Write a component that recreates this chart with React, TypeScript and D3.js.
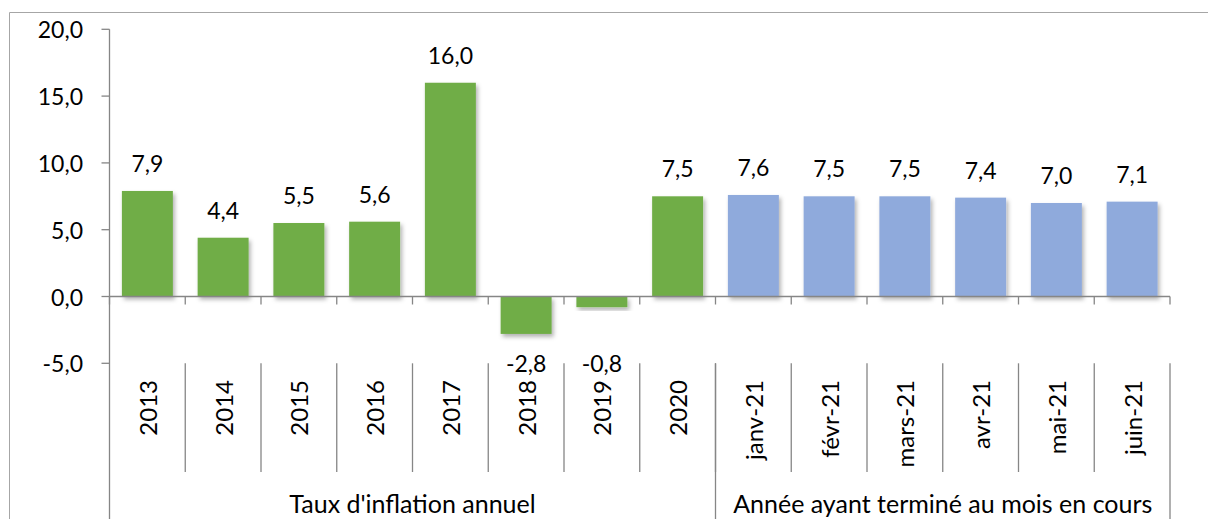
import React from "react";
import * as d3 from "d3";

const categories = ["2013", "2014", "2015", "2016", "2017", "2018", "2019", "2020", "janv-21", "févr-21", "mars-21", "avr-21", "mai-21", "juin-21"];
const values = [7.9, 4.4, 5.5, 5.6, 16.0, -2.8, -0.8, 7.5, 7.6, 7.5, 7.5, 7.4, 7.0, 7.1];
const seriesKind = ["annual", "annual", "annual", "annual", "annual", "annual", "annual", "annual", "monthly", "monthly", "monthly", "monthly", "monthly", "monthly"];
const groupNames = ["Taux d'inflation annuel", "Année ayant terminé au mois en cours"];
const groupSizes = [8, 6];
const yTicks = [-5, 0, 5, 10, 15, 20];

const W = 1208;
const H = 519;
const FONT = "Lato, 'Open Sans', sans-serif";
const colors: Record<string, string> = { annual: "#70AD47", monthly: "#8FAADC" };

const fmt = (v: number) => d3.format(".1f")(v).replace(".", ",").replace("−", "-");

export default function App() {
  const plotLeft = 109.5;
  const plotRight = 1170;
  const y = d3.scaleLinear().domain([-5, 20]).range([363.3, 29.3]);
  const x = d3.scaleBand<string>().domain(categories).range([plotLeft, plotRight]).paddingInner(0.327).paddingOuter(0.1635);
  const step = x.step();
  const y0 = y(0);
  const labelTop = y(-5);
  const catSepBottom = 472;
  const numSize = 23;

  const groupBounds: { name: string; start: number; end: number }[] = [];
  let idx = 0;
  groupNames.forEach((name, i) => {
    const s = plotLeft + idx * step;
    idx += groupSizes[i];
    const e = plotLeft + idx * step;
    groupBounds.push({ name, start: s, end: e });
  });

  return (
    <svg width={W} height={H} style={{ position: "absolute", left: 0, top: 0, background: "#fff" }} fontFamily={FONT}>
      <defs>
        <filter id="shadow" x="-20%" y="-20%" width="150%" height="150%">
          <feDropShadow dx="2" dy="3" stdDeviation="2" floodColor="#000" floodOpacity="0.3" />
        </filter>
      </defs>
      <rect x={0} y={0} width={W} height={H} fill="#fff" />
      <line x1={9.5} x2={9.5} y1={12.5} y2={H} stroke="#a6a6a6" strokeWidth={1} />
      <line x1={9.5} x2={W} y1={12.5} y2={12.5} stroke="#a6a6a6" strokeWidth={1} />

      {categories.map((c, i) => {
        const v = values[i];
        const top = y(Math.max(0, v));
        const bot = y(Math.min(0, v));
        return (
          <rect key={c} x={x(c)} y={top} width={x.bandwidth()} height={bot - top} fill={colors[seriesKind[i]]} filter="url(#shadow)" />
        );
      })}

      <line x1={plotLeft} x2={plotLeft} y1={y(20)} y2={H} stroke="#868686" strokeWidth={1.3} />
      {yTicks.map((t) => (
        <g key={t}>
          <line x1={plotLeft - 8} x2={plotLeft} y1={y(t)} y2={y(t)} stroke="#868686" strokeWidth={1.3} />
          <text x={83} y={y(t)} textAnchor="end" dominantBaseline="central" fontSize={numSize} fill="#000">
            {fmt(t)}
          </text>
        </g>
      ))}

      <line x1={plotLeft} x2={plotRight} y1={y0} y2={y0} stroke="#868686" strokeWidth={1.3} />
      {d3.range(categories.length + 1).map((k) => (
        <line key={k} x1={plotLeft + k * step} x2={plotLeft + k * step} y1={y0} y2={y0 + 8} stroke="#868686" strokeWidth={1.3} />
      ))}

      {d3.range(1, categories.length).map((k) => (
        <line key={k} x1={plotLeft + k * step} x2={plotLeft + k * step} y1={labelTop} y2={catSepBottom} stroke="#868686" strokeWidth={1.3} />
      ))}
      {groupBounds.map((g) => (
        <g key={g.name}>
          <line x1={g.end} x2={g.end} y1={labelTop} y2={H} stroke="#868686" strokeWidth={1.3} />
          <text x={(g.start + g.end) / 2} y={513} textAnchor="middle" fontSize={25} fill="#000">
            {g.name}
          </text>
        </g>
      ))}

      {categories.map((c) => {
        const cx = (x(c) as number) + x.bandwidth() / 2;
        return (
          <text key={c} transform={`translate(${cx},380) rotate(-90)`} textAnchor="end" dominantBaseline="central" fontSize={24} fill="#000">
            {c}
          </text>
        );
      })}

      {categories.map((c, i) => {
        const v = values[i];
        const cx = (x(c) as number) + x.bandwidth() / 2;
        return v >= 0 ? (
          <text key={c} x={cx} y={y(v) - 19} textAnchor="middle" fontSize={numSize} fill="#000">
            {fmt(v)}
          </text>
        ) : (
          <text key={c} x={cx} y={labelTop} textAnchor="middle" dominantBaseline="central" fontSize={numSize} fill="#000">
            {fmt(v)}
          </text>
        );
      })}
    </svg>
  );
}
